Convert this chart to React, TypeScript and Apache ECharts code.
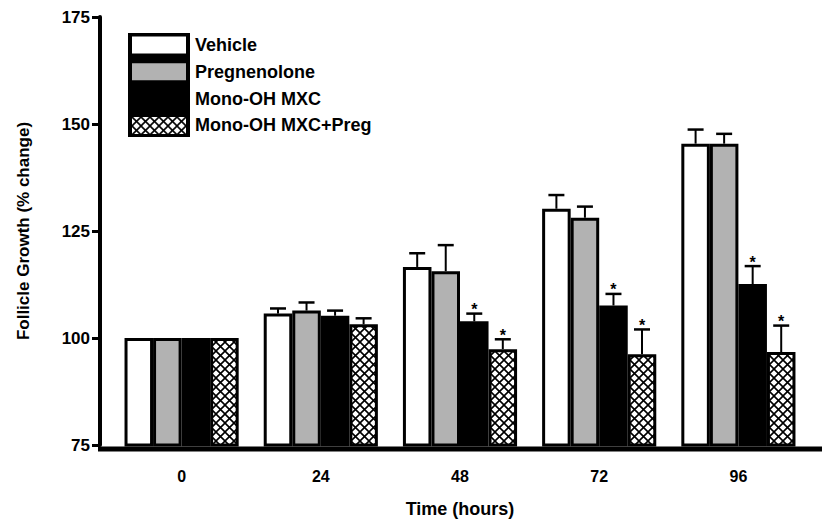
import React, { useEffect, useRef } from "react";
import * as echarts from "echarts";

const categories = ["0", "24", "48", "72", "96"];
const seriesNames = ["Vehicle", "Pregnenolone", "Mono-OH MXC", "Mono-OH MXC+Preg"];
const vehicle = [100, 105.7, 116.6, 130.2, 145.4];
const pregnenolone = [100, 106.4, 115.6, 128.1, 145.4];
const monoOH = [100, 105.2, 103.9, 107.6, 112.6];
const monoOHPreg = [100, 103.2, 97.4, 96.2, 96.7];
const vehicleErr = [0, 1.2, 3.2, 3.2, 3.3];
const pregnenoloneErr = [0, 1.9, 6.1, 2.6, 2.3];
const monoOHErr = [0, 1.2, 1.8, 2.7, 4.2];
const monoOHPregErr = [0, 1.4, 2.3, 5.8, 6.2];
const monoOHStar = [0, 0, 1, 1, 1];
const monoOHPregStar = [0, 0, 1, 1, 1];
const yTicks = { min: 75, max: 175, interval: 25 };

const FONT = "'Liberation Sans', Arial, sans-serif";

export default function App() {
  const ref = useRef<HTMLDivElement>(null);
  useEffect(() => {
    if (!ref.current) return;
    const chart = echarts.init(ref.current, null, { renderer: "svg" });
    const hatchSvg =
      "<svg xmlns='http://www.w3.org/2000/svg' width='9' height='9'><rect width='9' height='9' fill='white'/><path d='M-1 -1L10 10M10 -1L-1 10' stroke='black' stroke-width='1.6'/></svg>";
    const hatch = {
      image: "data:image/svg+xml;charset=utf-8," + encodeURIComponent(hatchSvg),
      repeat: "repeat",
      imageWidth: 9,
      imageHeight: 9,
    };
    const colors: any[] = ["#ffffff", "#b2b2b2", "#000000", hatch];
    const values = [vehicle, pregnenolone, monoOH, monoOHPreg];
    const errs = [vehicleErr, pregnenoloneErr, monoOHErr, monoOHPregErr];
    const stars = [[0, 0, 0, 0, 0], [0, 0, 0, 0, 0], monoOHStar, monoOHPregStar];
    const errData: number[][] = [];
    values.forEach((vals, s) => {
      vals.forEach((v, c) => {
        errData.push([c, s, v, errs[s][c], stars[s][c]]);
      });
    });
    const gapRatio = 0.18;
    chart.setOption({
      animation: false,
      grid: { left: 112, right: 14, top: 17, bottom: 74, containLabel: false },
      legend: {
        orient: "vertical",
        left: 132,
        top: 36,
        padding: 0,
        icon: "rect",
        itemWidth: 54,
        itemHeight: 17,
        itemGap: 8.8,
        z: 10,
        data: seriesNames,
        itemStyle: { borderWidth: 0 },
        textStyle: {
          fontFamily: FONT,
          fontWeight: "bold",
          fontSize: 18,
          color: "#000",
          padding: [0, 0, 0, 4],
        },
      },
      graphic: [
        {
          type: "rect",
          left: 128,
          top: 33,
          shape: { width: 62, height: 104 },
          style: { fill: "#000" },
          z: 0,
        },
        {
          type: "line",
          shape: { x1: 98, y1: 449, x2: 822, y2: 449 },
          style: { stroke: "#000", lineWidth: 5 },
          z: 50,
        },
      ],
      xAxis: {
        type: "category",
        data: categories,
        axisLine: { show: false },
        axisTick: { show: false },
        axisLabel: {
          margin: 23,
          fontFamily: FONT,
          fontWeight: "bold",
          fontSize: 16,
          color: "#000",
        },
        name: "Time (hours)",
        nameLocation: "middle",
        nameGap: 55,
        nameTextStyle: { fontFamily: FONT, fontWeight: "bold", fontSize: 18, color: "#000" },
      },
      yAxis: {
        type: "value",
        min: yTicks.min,
        max: yTicks.max,
        interval: yTicks.interval,
        offset: 12,
        splitLine: { show: false },
        axisLine: { show: true, lineStyle: { color: "#000", width: 4 } },
        axisTick: { show: true, length: 8, lineStyle: { color: "#000", width: 3 } },
        axisLabel: {
          margin: 10,
          fontFamily: FONT,
          fontWeight: "bold",
          fontSize: 17,
          color: "#000",
        },
        name: "Follicle Growth (% change)",
        nameLocation: "middle",
        nameGap: 68,
        nameTextStyle: { fontFamily: FONT, fontWeight: "bold", fontSize: 17, color: "#000" },
      },
      series: [
        ...values.map((vals, s) => ({
          type: "bar",
          name: seriesNames[s],
          data: vals,
          barGap: "0%",
          barCategoryGap: gapRatio * 100 + "%",
          itemStyle: { color: colors[s], borderColor: "#000", borderWidth: 3 },
        })),
        {
          type: "custom",
          name: "err",
          data: errData,
          encode: { x: 0, y: 2 },
          z: 5,
          renderItem: (params: any, api: any) => {
            const c = api.value(0);
            const s = api.value(1);
            const v = api.value(2);
            const e = api.value(3);
            const st = api.value(4);
            if (!e) return { type: "group", children: [] };
            const band = api.size([1, 0])[0];
            const bw = (band * (1 - gapRatio)) / 4;
            const p = api.coord([c, v]);
            const pt = api.coord([c, v + e]);
            const x = p[0] + (s - 1.5) * bw;
            const children: any[] = [
              {
                type: "line",
                shape: { x1: x, y1: p[1], x2: x, y2: pt[1] },
                style: { stroke: "#000", lineWidth: 2 },
              },
              {
                type: "line",
                shape: { x1: x - 8, y1: pt[1], x2: x + 8, y2: pt[1] },
                style: { stroke: "#000", lineWidth: 2.5 },
              },
            ];
            if (st) {
              children.push({
                type: "text",
                x: x,
                y: pt[1] - 4,
                style: {
                  text: "*",
                  fontFamily: FONT,
                  fontWeight: "bold",
                  fontSize: 16,
                  fill: "#000",
                  align: "center",
                  verticalAlign: "middle",
                },
              });
            }
            return { type: "group", children };
          },
        },
      ],
    });
    return () => chart.dispose();
  }, []);
  return (
    <div
      ref={ref}
      style={{ position: "fixed", left: 0, top: 0, width: 822, height: 523, background: "#fff" }}
    />
  );
}
